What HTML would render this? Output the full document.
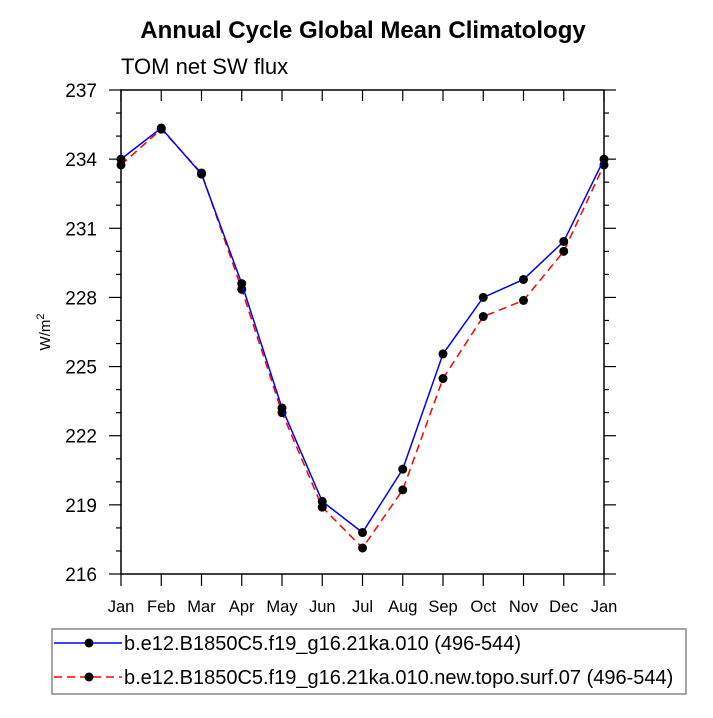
<!DOCTYPE html>
<html><head><meta charset="utf-8"><style>
body{margin:0;background:#fff;}
svg text{font-family:"Liberation Sans",sans-serif;}
</style></head><body>
<svg width="713" height="713">
<text x="363" y="38" text-anchor="middle" font-size="24" font-weight="bold">Annual Cycle Global Mean Climatology</text>
<text x="121" y="74" font-size="22">TOM net SW flux</text>
<text transform="translate(50,332) rotate(-90)" text-anchor="middle" font-size="15">W/m<tspan dy="-6" font-size="11">2</tspan></text>
<g id="axes"></g>
<g id="series"></g>
<rect x="52" y="629" width="634" height="65" fill="none" stroke="#888" stroke-width="1.5"/>
<line x1="54" y1="643" x2="122" y2="643" stroke="#0000ff" stroke-width="1.5"/>
<circle cx="89" cy="643" r="4.5" fill="#000"/>
<text x="124" y="650" font-size="20">b.e12.B1850C5.f19_g16.21ka.010 (496-544)</text>
<line x1="54" y1="677" x2="122" y2="677" stroke="#ff0000" stroke-width="1.5" stroke-dasharray="8,5"/>
<circle cx="89" cy="677" r="4.5" fill="#000"/>
<text x="124" y="684" font-size="20">b.e12.B1850C5.f19_g16.21ka.010.new.topo.surf.07 (496-544)</text>
</svg>
<script>
const months=["Jan","Feb","Mar","Apr","May","Jun","Jul","Aug","Sep","Oct","Nov","Dec","Jan"];
const yTicks=[216,219,222,225,228,231,234,237];
const controlVals=[234.0,235.35,233.35,228.6,223.2,219.15,217.8,220.55,225.55,228.0,228.78,230.43,234.0];
const topoVals=[233.75,235.3,233.4,228.35,223.0,218.9,217.13,219.65,224.48,227.17,227.87,230.0,233.75];
const X0=121,X1=604,Y0=574,Y1=90,ymin=216,ymax=237;
const NS="http://www.w3.org/2000/svg";
const xs=i=>X0+(X1-X0)*i/(months.length-1);
const ys=v=>Y0-(v-ymin)/(ymax-ymin)*(Y0-Y1);
function mk(t,a,p){const e=document.createElementNS(NS,t);for(const k in a)e.setAttribute(k,a[k]);p.appendChild(e);return e;}
const ax=document.getElementById('axes');
const frame=mk('rect',{x:X0,y:Y1,width:X1-X0,height:Y0-Y1,fill:'none',stroke:'#000','stroke-width':1.5},ax);


months.forEach((m,i)=>{
  const x=xs(i);
  const t=mk('line',{x1:x,x2:x,y1:Y0,y2:Y0+12,stroke:'#000','stroke-width':1.2},ax);
  
  
  mk('line',{x1:x,x2:x,y1:Y1,y2:Y1+11,stroke:'#000','stroke-width':1.2},ax);
  const l=mk('text',{x:x,y:Y0+38,'text-anchor':'middle','font-size':16.5},ax);
  l.textContent=m;
  
  
});
for(let v=ymin;v<=ymax;v++){
  const y=ys(v);const major=(v-ymin)%3===0;const L=major?12:5;
  mk('line',{x1:X0-L,x2:X0,y1:y,y2:y,stroke:'#000','stroke-width':1.2},ax);
  mk('line',{x1:X1,x2:X1+L,y1:y,y2:y,stroke:'#000','stroke-width':1.2},ax);
}
yTicks.forEach(v=>{
  const l=mk('text',{x:X0-24,y:ys(v)+7,'text-anchor':'end','font-size':19},ax);
  l.textContent=v;
  
  
});
const sg=document.getElementById('series');
function series(vals,color,dash,name){
  const pts=vals.map((v,i)=>xs(i)+','+ys(v)).join(' ');
  const pl=mk('polyline',{points:pts,fill:'none',stroke:color,'stroke-width':1.5,'stroke-dasharray':dash},sg);
  
  
  vals.forEach((v,i)=>{
    const c=mk('circle',{cx:xs(i),cy:ys(v),r:4.5,fill:'#000'},sg);
    
    
  });
}
series(topoVals,'#ff0000','8,5','topo');
series(controlVals,'#0000ff','none','control');
</script>
</body></html>
